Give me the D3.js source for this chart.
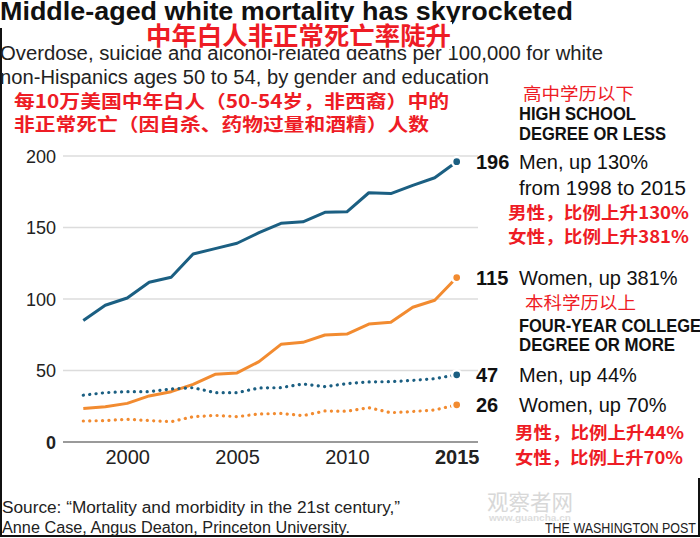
<!DOCTYPE html>
<html><head><meta charset="utf-8">
<script src="https://cdn.jsdelivr.net/npm/d3@7"></script>
<style>
html,body{margin:0;padding:0;background:#fff;}
svg{display:block;}
</style></head>
<body>
<svg id="chart" width="700" height="538"></svg>
<script>
// ---- data ----
const years = [1998,1999,2000,2001,2002,2003,2004,2005,2006,2007,2008,2009,2010,2011,2012,2013,2014,2015];
const menHS    = [85, 95.6, 100.7, 111.7, 115.2, 131.5, 135.2, 139, 146.4, 152.9, 154, 160.6, 161, 174.3, 173.7, 179.5, 184.8, 196];
const womenHS  = [23.5, 24.7, 27, 32.2, 35.2, 40.3, 47.3, 48.3, 56.2, 68.3, 69.7, 74.8, 75.5, 82.5, 83.7, 94.2, 99.1, 115];
const menCol   = [32.7, 34.5, 35.2, 35.2, 37.1, 38, 34.5, 34.5, 37.8, 38, 40.6, 38.7, 40.8, 42, 42.2, 43.1, 44.3, 47];
const womenCol = [14.7, 15, 15.9, 15, 14.2, 17.7, 18.6, 17.7, 19.6, 20, 18.4, 21.7, 21.5, 24, 20.5, 21.3, 22.4, 26];
const yTicks = [0, 50, 100, 150, 200];
const xTicks = [2000, 2005, 2010, 2015];
const seriesNames = ["Men, up 130%", "Women, up 381%", "Men, up 44%", "Women, up 70%"];

const BLUE = "#1b5f82", ORANGE = "#f28b30", RED = "#ee1c25";
const svg = d3.select("#chart");

const x = d3.scaleLinear().domain([1998, 2015]).range([83.3, 456.7]);
const y = d3.scaleLinear().domain([0, 200]).range([442, 156]);

// frame
svg.append("line").attr("x1",1).attr("x2",1).attr("y1",28).attr("y2",536).attr("stroke","#111").attr("stroke-width",2);
svg.append("line").attr("x1",0).attr("x2",700).attr("y1",536).attr("y2",536).attr("stroke","#111").attr("stroke-width",2);
svg.append("line").attr("x1",699).attr("x2",699).attr("y1",478).attr("y2",536).attr("stroke","#111").attr("stroke-width",2);

// grid
const grid = svg.append("g");
grid.selectAll("line").data(yTicks).join("line")
  .attr("x1", 63).attr("x2", 478)
  .attr("y1", d => y(d)).attr("y2", d => y(d))
  .attr("stroke", d => d === 0 ? "#9a9a9a" : "#dcdcdc")
  .attr("stroke-width", d => d === 0 ? 2 : 1.5);

// y axis labels
const yAxis = d3.axisLeft(y).tickValues(yTicks).tickSize(0).tickPadding(0);
const gy = svg.append("g").attr("transform","translate(56,0)").call(yAxis);
gy.select(".domain").remove();
gy.selectAll("text").attr("font-family","Liberation Sans, Arial, sans-serif").attr("font-size",18)
  .attr("fill","#222").attr("dy","0.35em")
  .attr("font-weight", d => d === 0 ? "bold" : "normal");

// x axis labels
const xAxis = d3.axisBottom(x).tickValues(xTicks).tickFormat(d3.format("d")).tickSize(0).tickPadding(0);
const gx = svg.append("g").attr("transform","translate(0,450)").call(xAxis);
gx.select(".domain").remove();
gx.selectAll("text").attr("font-family","Liberation Sans, Arial, sans-serif").attr("font-size",20)
  .attr("fill","#222").attr("dy","0.71em")
  .attr("font-weight", d => d === 2015 ? "bold" : "normal");

// lines
const line = d3.line().x((d,i) => x(years[i])).y(d => y(d));
const series = [
  {vals: menHS, color: BLUE, dotted: false},
  {vals: womenHS, color: ORANGE, dotted: false},
  {vals: menCol, color: BLUE, dotted: true},
  {vals: womenCol, color: ORANGE, dotted: true}
];
series.forEach(s => {
  svg.append("path").datum(s.vals)
    .attr("d", line).attr("fill","none")
    .attr("stroke", s.color).attr("stroke-width", s.dotted ? 3.2 : 3)
    .attr("stroke-linejoin","round")
    .attr("stroke-linecap", s.dotted ? "round" : "butt")
    .attr("stroke-dasharray", s.dotted ? "0.1 6.3" : null);
  svg.append("circle")
    .attr("cx", x(2015)).attr("cy", y(s.vals[s.vals.length-1])).attr("r", 4.6)
    .attr("fill", s.color).attr("stroke","#fff").attr("stroke-width",2.5);
});

// end value labels
const labX = 476, nameX = 519;
series.forEach((s,i) => {
  const v = s.vals[s.vals.length-1];
  const yy = y(v) + 7;
  svg.append("text").attr("x", labX).attr("y", yy)
    .attr("font-family","Liberation Sans, Arial, sans-serif").attr("font-weight","bold").attr("font-size",20)
    .attr("fill","#111").text(d3.format("d")(v));
  svg.append("text").attr("x", nameX).attr("y", yy)
    .attr("font-family","Liberation Sans, Arial, sans-serif").attr("font-size",20)
    .attr("fill","#111").text(seriesNames[i]);
});

// text helper
function txt(t, xx, yy, opts) {
  const e = svg.append("text").attr("x", xx).attr("y", yy).text(t)
    .attr("font-family", opts.family || "Liberation Sans, Arial, sans-serif")
    .attr("font-size", opts.size).attr("fill", opts.fill || "#111")
    .attr("font-weight", opts.weight || "normal");
  if (opts.len) e.attr("textLength", opts.len).attr("lengthAdjust","spacingAndGlyphs");
  if (opts.anchor) e.attr("text-anchor", opts.anchor);
  if (opts.opacity) e.attr("opacity", opts.opacity);
  return e;
}
const CJK = "Noto Sans CJK SC, sans-serif";
const NARROW = "Liberation Sans Narrow, Liberation Sans, Arial, sans-serif";

// titles
txt("Middle-aged white mortality has skyrocketed", 0, 20, {size:26, weight:"bold", family:NARROW, len:573});
txt("Overdose, suicide and alcohol-related deaths per 100,000 for white", 0, 60, {size:19.5, len:603, fill:"#222"});
txt("non-Hispanics ages 50 to 54, by gender and education", 0, 84, {size:19.5, len:489, fill:"#222"});
// pasted-on Chinese title box (covers parts of the English text, as in the reference)
svg.append("rect").attr("x", 142).attr("y", 22).attr("width", 310).attr("height", 27).attr("fill", "#fff");
txt("中年白人非正常死亡率陡升", 146, 45, {size:25, weight:"bold", family:CJK, fill:RED, len:305});
txt("每10万美国中年白人（50-54岁，非西裔）中的", 14, 108, {size:18, weight:"bold", family:CJK, fill:RED, len:435});
txt("非正常死亡（因自杀、药物过量和酒精）人数", 14, 131, {size:18, weight:"bold", family:CJK, fill:RED, len:415});

// right annotations
txt("高中学历以下", 523, 100, {size:17, family:CJK, fill:RED, len:111});
txt("HIGH SCHOOL", 519, 120, {size:18, weight:"bold", family:NARROW, len:117});
txt("DEGREE OR LESS", 519, 140, {size:18, weight:"bold", family:NARROW, len:147});
txt("from 1998 to 2015", 519, 195, {size:20, len:167});
txt("男性，比例上升130%", 508, 219, {size:17, weight:"bold", family:CJK, fill:RED, len:181});
txt("女性，比例上升381%", 508, 243, {size:17, weight:"bold", family:CJK, fill:RED, len:181});
txt("本科学历以上", 525, 309, {size:17, family:CJK, fill:RED, len:111});
txt("FOUR-YEAR COLLEGE", 519, 332, {size:18, weight:"bold", family:NARROW, len:182});
txt("DEGREE OR MORE", 519, 351, {size:18, weight:"bold", family:NARROW, len:156});
txt("男性，比例上升44%", 515, 439, {size:17, weight:"bold", family:CJK, fill:RED, len:169});
txt("女性，比例上升70%", 515, 464, {size:17, weight:"bold", family:CJK, fill:RED, len:168});

// source
txt("Source: “Mortality and morbidity in the 21st century,”", 2, 513, {size:16, family:NARROW, len:398, fill:"#222"});
txt("Anne Case, Angus Deaton, Princeton University.", 2, 533, {size:16, family:NARROW, len:348, fill:"#222"});
txt("THE WASHINGTON POST", 545, 533, {size:14, family:NARROW, len:151, fill:"#222"});

// watermark
txt("观察者网", 487, 510, {size:22, family:CJK, fill:"#cfcfcf", len:86, opacity:0.8});
txt("www.guancha.cn", 489, 521, {size:9, weight:"bold", fill:"#d6d6d6", len:82, opacity:0.8});
</script>
</body></html>
